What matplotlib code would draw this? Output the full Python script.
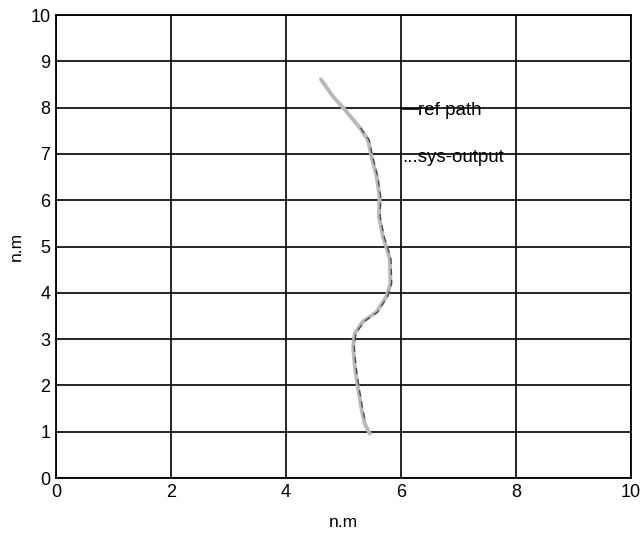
import matplotlib
matplotlib.use("Agg")
import matplotlib.pyplot as plt

plt.rcParams["font.family"] = ["Liberation Sans", "DejaVu Sans"]

# reference path (n.m)
ref_x = [4.61, 4.82, 5.03, 5.29, 5.43, 5.49, 5.58, 5.63, 5.62, 5.69, 5.78,
         5.81, 5.82, 5.75, 5.58, 5.34, 5.20, 5.17, 5.20, 5.26, 5.32, 5.37, 5.46]
ref_y = [8.61, 8.24, 7.95, 7.56, 7.30, 6.94, 6.51, 6.08, 5.65, 5.21, 4.86,
         4.71, 4.20, 3.92, 3.59, 3.38, 3.13, 2.84, 2.40, 1.90, 1.47, 1.18, 0.96]

# system output (n.m)
sys_x = [5.30, 5.45, 5.51, 5.60, 5.65, 5.64, 5.71, 5.80, 5.83, 5.84, 5.77,
         5.60, 5.36, 5.22, 5.19, 5.22, 5.28, 5.34, 5.39]
sys_y = [7.56, 7.30, 6.94, 6.51, 6.08, 5.65, 5.21, 4.86, 4.71, 4.20, 3.92,
         3.59, 3.38, 3.13, 2.84, 2.40, 1.90, 1.47, 1.18]

x_ticks = [0, 2, 4, 6, 8, 10]
y_ticks = list(range(11))

fig = plt.figure(figsize=(6.4, 5.36), dpi=100)
ax = fig.add_axes([0.0875, 0.108, 0.898, 0.864])

ax.plot(ref_x, ref_y, color="#b8b8b8", lw=2.8, solid_capstyle="round", zorder=3)
ax.plot(sys_x, sys_y, color="#444444", lw=0.9, ls=(0, (5, 4)), zorder=4)

ax.set_xlim(0, 10)
ax.set_ylim(0, 10)
ax.set_xticks(x_ticks)
ax.set_yticks(y_ticks)
ax.tick_params(length=0, labelsize=13, pad=4)
ax.grid(True, color="black", lw=1.2)
ax.set_axisbelow(True)
for s in ax.spines.values():
    s.set_linewidth(1.3)

ax.set_xlabel("n.m", fontsize=12.5, labelpad=10)
ax.set_ylabel("n.m", fontsize=12.5, labelpad=5)

# inline legend
ax.plot([6.03, 6.3], [7.97, 7.97], color="black", lw=1.2, zorder=5)
ax.text(6.3, 7.93, "ref path", fontsize=13.5, va="center", ha="left", zorder=5)
ax.text(6.02, 6.93, "...sys-output", fontsize=13.5, va="center", ha="left", zorder=5)

fig.savefig("out.png", dpi=100)
